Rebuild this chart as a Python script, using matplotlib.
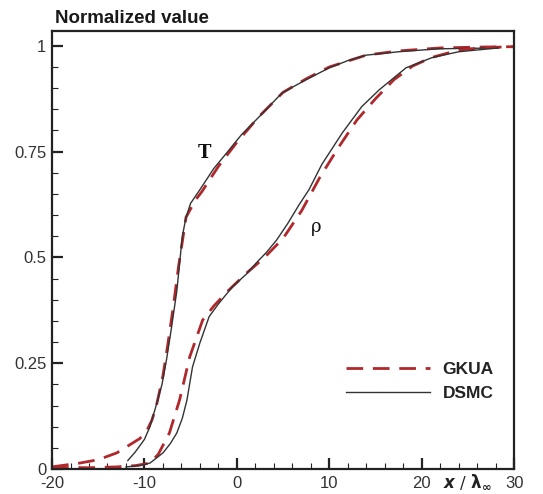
import matplotlib
matplotlib.use("Agg")
import matplotlib.pyplot as plt
from matplotlib.ticker import MultipleLocator, FixedLocator, FixedFormatter

# temperature profile, DSMC
t_dsmc_x = [-11.8, -11.0, -10.0, -9.4, -8.8, -8.1, -7.6, -7.1, -6.5, -5.9, -5.5,
            -5.0, -4.0, -2.5, -1.1, 0.5, 2.4, 4.9, 7.5, 10.0, 12.0, 14.0, 17.5,
            21.8, 25.0, 28.3]
t_dsmc_y = [0.02, 0.04, 0.07, 0.10, 0.145, 0.20, 0.26, 0.33, 0.42, 0.55, 0.595,
            0.628, 0.66, 0.71, 0.747, 0.79, 0.832, 0.889, 0.92, 0.948, 0.965,
            0.978, 0.986, 0.993, 0.994, 0.995]

# temperature profile, GKUA
t_gkua_x = [-20.0, -17.0, -15.0, -13.0, -11.6, -10.5, -9.75, -9.2, -8.7, -8.0,
            -7.5, -6.9, -6.3, -5.5, -4.5, -3.8, -2.0, 0.0, 2.4, 5.0, 7.5, 10.0,
            14.0, 17.5, 22.0, 26.0, 30.0]
t_gkua_y = [0.005, 0.014, 0.022, 0.038, 0.057, 0.072, 0.09, 0.115, 0.15, 0.22,
            0.29, 0.38, 0.48, 0.595, 0.635, 0.655, 0.715, 0.772, 0.833, 0.89,
            0.922, 0.95, 0.978, 0.988, 0.995, 0.997, 0.998]

# density profile, DSMC
rho_dsmc_x = [-12.0, -10.5, -9.4, -8.0, -7.2, -6.5, -5.9, -5.4, -4.8, -4.0, -3.0,
              -2.0, -0.5, 1.0, 2.1, 3.2, 4.3, 5.5, 6.75, 7.8, 9.2, 11.4, 13.5,
              15.4, 18.3, 21.1, 24.0, 28.3]
rho_dsmc_y = [0.005, 0.008, 0.014, 0.038, 0.06, 0.085, 0.12, 0.163, 0.241, 0.298,
              0.36, 0.39, 0.43, 0.46, 0.487, 0.512, 0.541, 0.58, 0.625, 0.66,
              0.72, 0.794, 0.856, 0.896, 0.948, 0.972, 0.986, 0.995]

# density profile, GKUA
rho_gkua_x = [-20.0, -16.0, -13.0, -11.0, -9.4, -8.5, -7.3, -6.2, -5.1, -3.7,
              -2.5, -1.0, 1.0, 3.0, 5.0, 7.0, 9.0, 11.0, 13.0, 15.0, 17.0, 19.0,
              21.0, 24.0, 27.0, 30.0]
rho_gkua_y = [0.004, 0.003, 0.005, 0.008, 0.014, 0.035, 0.085, 0.163, 0.265,
              0.352, 0.385, 0.42, 0.462, 0.50, 0.545, 0.61, 0.69, 0.76, 0.825,
              0.875, 0.92, 0.952, 0.972, 0.99, 0.996, 0.998]

y_ticks = [0, 0.25, 0.5, 0.75, 1]
y_labels = ["0", "0.25", "0.5", "0.75", "1"]
x_ticks = [-20, -10, 0, 10, 20, 30]
x_labels = ["-20", "-10", "0", "10", "20", "30"]

plt.rcParams["font.family"] = ["Liberation Sans", "DejaVu Sans"]

fig = plt.figure(figsize=(5.43, 4.94), dpi=100)
ax = fig.add_axes([0.0958, 0.0506, 0.851, 0.8866])

red = "#b0282c"
ax.plot(t_gkua_x, t_gkua_y, color=red, lw=2.0, dashes=(6, 3.5), label="GKUA")
ax.plot(t_dsmc_x, t_dsmc_y, color="#333333", lw=1.0, label="DSMC")
ax.plot(rho_gkua_x, rho_gkua_y, color=red, lw=2.0, dashes=(6, 3.5))
ax.plot(rho_dsmc_x, rho_dsmc_y, color="#333333", lw=1.0)

ax.set_xlim(-20, 30)
ax.set_ylim(0, 1.035)

ax.xaxis.set_major_locator(FixedLocator(x_ticks))
ax.xaxis.set_major_formatter(FixedFormatter(x_labels))
ax.yaxis.set_major_locator(FixedLocator(y_ticks))
ax.yaxis.set_major_formatter(FixedFormatter(y_labels))
ax.xaxis.set_minor_locator(MultipleLocator(2))
ax.yaxis.set_minor_locator(MultipleLocator(0.05))
ax.tick_params(which="both", direction="in", top=False, right=False,
               colors="#222222", labelcolor="#333333", labelsize=12)
ax.tick_params(which="major", length=8, width=1.6)
ax.tick_params(which="minor", length=4, width=0.8)
ax.tick_params(axis="y", which="major", pad=4)
ax.tick_params(axis="x", which="major", pad=5)
for s in ax.spines.values():
    s.set_linewidth(1.6)
    s.set_color("#222222")

# lift the zero on the y axis a little so it clears the -20 below it
ax.get_yticklabels()[0].set_y(0.012)

# curve labels
ax.text(-3.5, 0.747, "T", family="DejaVu Serif", fontweight="bold", fontsize=13,
        ha="center", va="center", color="#111111")
ax.text(8.6, 0.572, "ρ", family="DejaVu Serif", fontsize=13,
        ha="center", va="center", color="#111111")

# axis titles
fig.text(0.101, 0.963, "Normalized value", fontsize=13.5, fontweight="bold",
         ha="left", va="center", color="#1a1a1a")
ax.text(25.0, -0.03, r"$\boldsymbol{x}$ / $\mathbf{\lambda_\infty}$",
        family="DejaVu Serif", fontsize=12, ha="center", va="center",
        color="#222222")

leg = ax.legend(loc="center left", bbox_to_anchor=(0.637, 0.2), frameon=False,
                handlelength=4.8, handletextpad=0.75, labelspacing=0.5,
                borderaxespad=0, borderpad=0,
                prop={"weight": "bold", "size": 12.5})
for t in leg.get_texts():
    t.set_color("#222222")

fig.savefig("out.png", dpi=100, facecolor="white")
